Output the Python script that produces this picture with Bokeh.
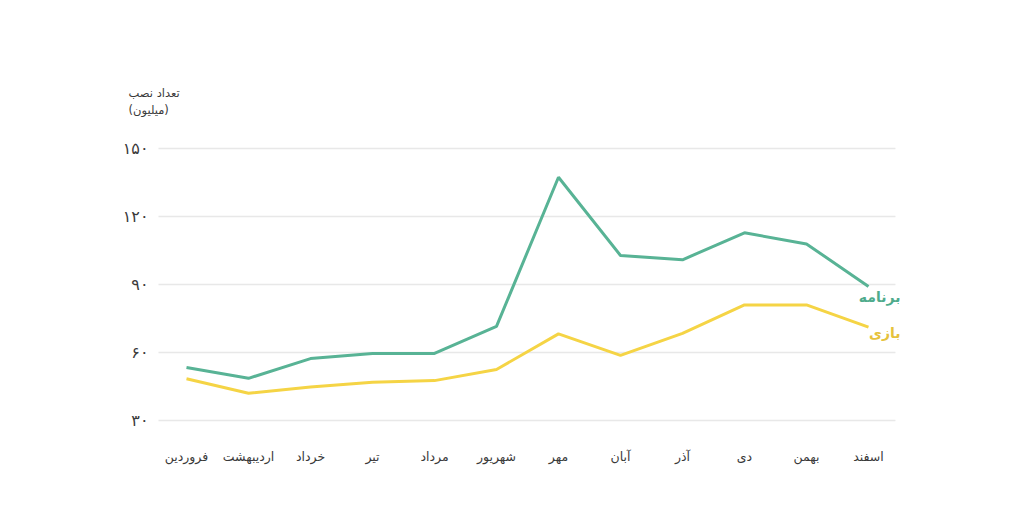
from bokeh.plotting import figure
from bokeh.models import FixedTicker, Range1d, Label, ColumnDataSource
from bokeh.core.properties import value
from bokeh.embed import file_html
from bokeh.resources import INLINE

months = ["فروردین", "اردیبهشت", "خرداد", "تیر", "مرداد", "شهریور",
          "مهر", "آبان", "آذر", "دی", "بهمن", "اسفند"]
apps = [53.4, 48.6, 57.3, 59.6, 59.6, 71.5, 137.3, 102.8, 100.9, 112.8, 107.9, 89.1]
games = [48.4, 42.0, 44.8, 46.9, 47.6, 52.5, 68.2, 58.7, 68.4, 81.0, 81.0, 71.2]
y_ticks = [30, 60, 90, 120, 150]
y_tick_labels = ["۳۰", "۶۰", "۹۰", "۱۲۰", "۱۵۰"]
series_names = ["برنامه", "بازی"]
y_title = ["تعداد نصب", "(میلیون)"]

GREEN = "#58b395"
YELLOW = "#f5d445"
FONT = "DejaVu Sans"
TXT = "#3a3a3a"

x = list(range(len(months)))

p = figure(width=1024, height=506, output_backend="svg", toolbar_location=None,
           x_range=Range1d(-1.387, 13.355), y_range=Range1d(25.59, 188.8),
           min_border_left=100, min_border_right=10, min_border_top=60,
           min_border_bottom=76, background_fill_color="white",
           border_fill_color="white", outline_line_color=None)

# horizontal grid lines at the y tick values
n = len(y_ticks)
p.segment(x0=[-0.452] * n, x1=[11.435] * n, y0=y_ticks, y1=y_ticks,
          line_color="#e8e8e8", line_width=1.5)

p.line(x, apps, line_color=GREEN, line_width=3)
p.line(x, games, line_color=YELLOW, line_width=3)

# y tick labels
ysrc = ColumnDataSource(dict(y=y_ticks, t=y_tick_labels, x=[-0.613] * n))
p.text(x="x", y="y", text="t", source=ysrc, text_align="right",
       text_baseline="middle", text_font=value(FONT), text_font_size="16px",
       text_color=TXT)

p.xgrid.grid_line_color = None
p.ygrid.grid_line_color = None
p.yaxis.visible = False

p.xaxis.ticker = FixedTicker(ticks=x)
p.xaxis.major_label_overrides = {i: m for i, m in zip(x, months)}
p.xaxis.axis_line_color = None
p.xaxis.major_tick_line_color = None
p.xaxis.minor_tick_line_color = None
p.xaxis.major_label_text_font = FONT
p.xaxis.major_label_text_color = TXT
p.xaxis.major_label_text_font_size = "12.5px"
p.xaxis.major_label_standoff = 12

p.add_layout(Label(x=-0.935, y=174.3, text=y_title[0], text_align="left",
                   text_baseline="middle", text_font=FONT, text_font_size="11.5px",
                   text_color=TXT))
p.add_layout(Label(x=-0.935, y=166.8, text=y_title[1], text_align="left",
                   text_baseline="middle", text_font=FONT, text_font_size="11.5px",
                   text_color=TXT))

p.add_layout(Label(x=11.516, y=84.3, text=series_names[0], text_align="right",
                   text_baseline="middle", text_font=FONT, text_font_size="14px",
                   text_font_style="bold", text_color="#4fab8c"))
p.add_layout(Label(x=11.516, y=68.4, text=series_names[1], text_align="right",
                   text_baseline="middle", text_font=FONT, text_font_size="14px",
                   text_font_style="bold", text_color="#e6c23c"))

open("out.html", "w").write(file_html(p, INLINE))
